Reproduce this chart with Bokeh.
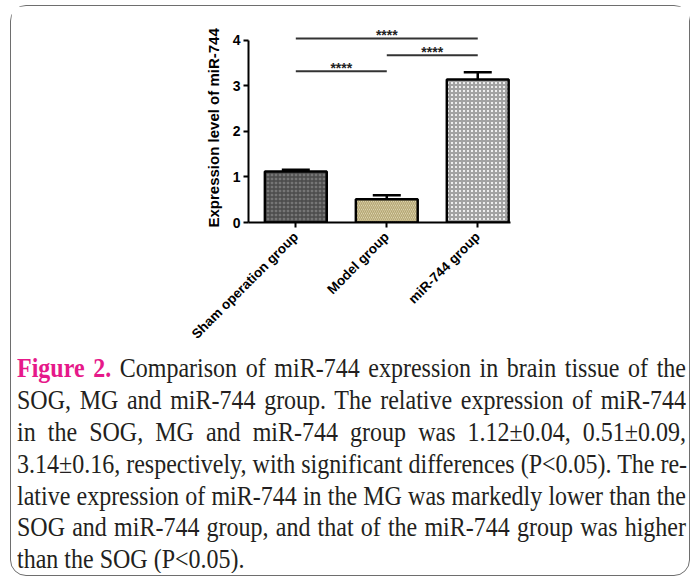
import math
import html
from bokeh.plotting import figure
from bokeh.models import ColumnDataSource, Range1d, FixedTicker, Whisker, TeeHead, Div, Title
from bokeh.layouts import column
from bokeh.core.properties import value
from bokeh.embed import file_html
from bokeh.resources import INLINE

# ---- data ----
groups = ["Sham operation group", "Model group", "miR-744 group"]
means = [1.12, 0.51, 3.14]
sems = [0.04, 0.09, 0.16]
y_ticks = [0, 1, 2, 3, 4]
comp_from = [0, 1, 0]
comp_to = [1, 2, 2]
comp_height = [3.32, 3.67, 4.04]
comp_label = ["****", "****", "****"]
y_title = "Expression level of miR-744"

fills = ["#767676", "#ece4c6", "#eeeeee"]
hatches = ["+", "\\", "+"]
hatch_colors = ["#4a4a4a", "#b4a673", "#a2a2a2"]
hatch_weights = [1.4, 1.4, 2.0]

caption_head = "Figure 2."
caption_lines = [
    " Comparison of miR-744 expression in brain tissue of the",
    "SOG, MG and miR-744 group. The relative expression of miR-744",
    "in the SOG, MG and miR-744 group was 1.12\u00b10.04, 0.51\u00b10.09,",
    "3.14\u00b10.16, respectively, with significant differences (P<0.05). The re-",
    "lative expression of miR-744 in the MG was markedly lower than the",
    "SOG and miR-744 group, and that of the miR-744 group was higher",
    "than the SOG (P<0.05).",
]

FONT = "Liberation Sans"

xs = list(range(len(groups)))
src = ColumnDataSource(dict(
    x=xs, top=means, upper=[m + s for m, s in zip(means, sems)],
    fill=fills, hatch=hatches, hc=hatch_colors, hw=hatch_weights,
))

p = figure(width=678, height=347,
           x_range=Range1d(-0.52, 2.36), y_range=Range1d(0, 4.5),
           output_backend="svg", toolbar_location=None,
           min_border_left=237, min_border_right=179,
           min_border_top=11, min_border_bottom=131)
p.grid.visible = False
p.outline_line_color = None
p.background_fill_color = "white"
p.border_fill_color = "white"

p.vbar(x="x", top="top", bottom=0, width=0.68, source=src,
       fill_color="fill", line_color="black", line_width=2.5,
       hatch_pattern="hatch", hatch_color="hc", hatch_scale=4, hatch_weight="hw")

wh = Whisker(base="x", upper="upper", lower="top", source=src,
             upper_head=TeeHead(size=28, line_width=2.5, line_color="black"),
             lower_head=None, line_width=2.5, line_color="black", level="overlay")
p.add_layout(wh)

p.segment(x0=comp_from, y0=comp_height, x1=comp_to, y1=comp_height,
          line_width=2, line_color="#333333")
p.text(x=[(a + b) / 2 for a, b in zip(comp_from, comp_to)], y=comp_height,
       text=comp_label, y_offset=-3, text_align="center", text_baseline="alphabetic",
       text_font=value(FONT), text_font_size="14px", text_font_style="bold",
       text_color="#222222")

# x axis
xa = p.xaxis[0]
xa.ticker = FixedTicker(ticks=xs)
xa.major_label_overrides = {i: g for i, g in zip(xs, groups)}
xa.major_label_orientation = math.pi / 4
xa.major_label_text_font = FONT
xa.major_label_text_font_size = "13.5px"
xa.major_label_text_font_style = "bold"
xa.major_label_text_color = "black"
xa.axis_line_width = 2
xa.axis_line_color = "black"
xa.major_tick_out = 5
xa.major_tick_in = 0
xa.major_tick_line_width = 2
xa.minor_tick_out = 0
xa.minor_tick_in = 0
xa.major_label_standoff = 7

# y axis
ya = p.yaxis[0]
ya.ticker = FixedTicker(ticks=y_ticks)
ya.bounds = (y_ticks[0], y_ticks[-1])
ya.major_label_text_font = FONT
ya.major_label_text_font_size = "14px"
ya.major_label_text_font_style = "bold"
ya.major_label_text_color = "black"
ya.axis_line_width = 2
ya.axis_line_color = "black"
ya.major_tick_out = 5
ya.major_tick_in = 0
ya.major_tick_line_width = 2
ya.minor_tick_out = 0
ya.minor_tick_in = 0
ya.major_label_standoff = 3

# y-axis title as a side title, anchored at the bottom of the axis
p.add_layout(Title(text=y_title, align="left", offset=-5, standoff=16,
                   text_font=FONT, text_font_size="15px", text_font_style="bold",
                   text_color="black"), "left")

# caption
rows = []
for i, line in enumerate(caption_lines):
    txt = html.escape(line)
    if i == 0:
        txt = ('<span style="color:#e6198a;font-weight:bold">' + html.escape(caption_head)
               + '</span>' + txt)
    last = (i == len(caption_lines) - 1)
    align = "left" if last else "justify"
    rows.append('<div style="text-align:justify;text-align-last:%s;white-space:nowrap;'
                'height:28.9px">%s</div>' % (align, txt))
cap_html = ('<div style="width:669px;margin-left:6px;font-family:\'Liberation Serif\';'
            'font-size:24px;line-height:28.9px;color:#231f20;transform:scaleY(1.1);'
            'transform-origin:0 0">' + "".join(rows) + '</div>')
div = Div(text=cap_html, width=678, height=222, margin=0)

layout = column(p, div, margin=(5, 0, 0, 10),
                styles={"border": "1.3px solid #6e6e6e", "border-radius": "16px",
                        "background": "white"})

open("out.html", "w").write(file_html(layout, INLINE))
